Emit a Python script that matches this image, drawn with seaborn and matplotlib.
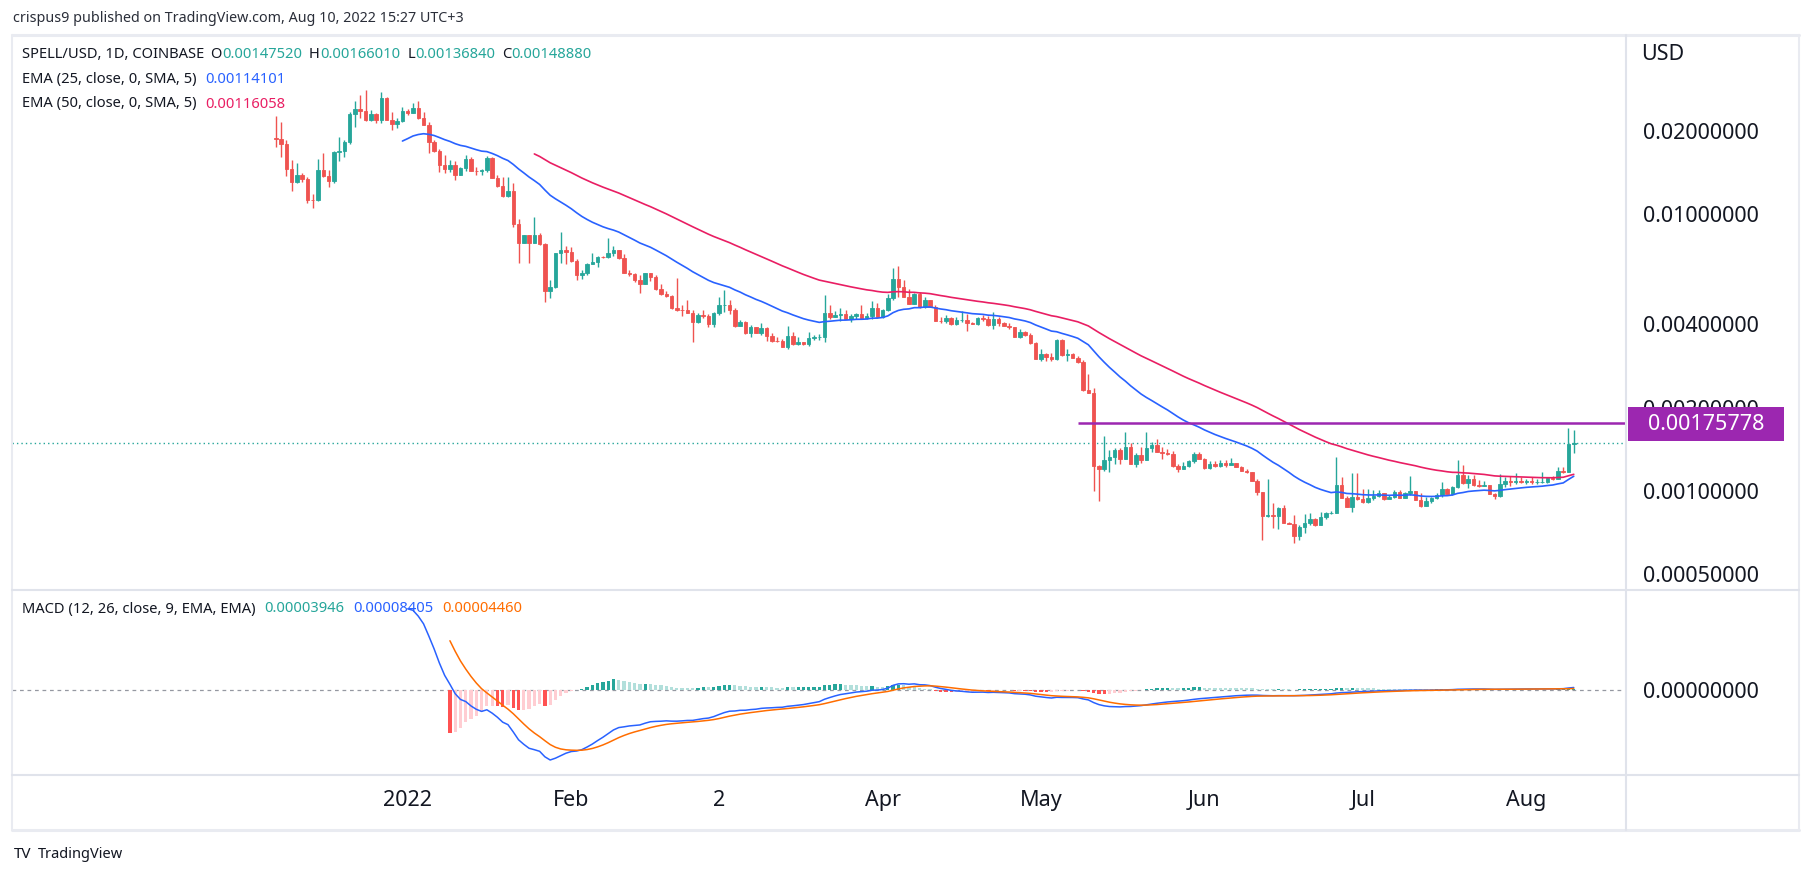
import numpy as np
import pandas as pd
import matplotlib
matplotlib.use("Agg")
import matplotlib.pyplot as plt
import matplotlib.dates as mdates
from matplotlib.patches import Rectangle
from matplotlib.lines import Line2D
from matplotlib.ticker import FixedLocator, FuncFormatter
import seaborn as sns

# ---------------- data ----------------
start_date = "2021-12-07"
first_open = 0.01876
last_open = 0.0014752

close = [0.01860, 0.01785, 0.01457, 0.01308, 0.01379, 0.01334, 0.01123, 0.01120, 0.01442, 0.01375,
         0.01319, 0.01675, 0.01692, 0.01820, 0.02297, 0.02388, 0.02360, 0.02185, 0.02297, 0.02190,
         0.02623, 0.02185, 0.02119, 0.02161, 0.02349, 0.02322, 0.02408, 0.02216, 0.02101, 0.01824,
         0.01692, 0.01507, 0.01457, 0.01503, 0.01383, 0.01466, 0.01580, 0.01433, 0.01430, 0.01445,
         0.01597, 0.01352, 0.01262, 0.01161, 0.01211, 0.009202, 0.007877, 0.008398, 0.007877, 0.008398,
         0.007793, 0.005285, 0.005464, 0.007249, 0.007414, 0.007274, 0.006766, 0.006022, 0.006138, 0.006599,
         0.006727, 0.007012, 0.006977, 0.007249, 0.007414, 0.006918, 0.006138, 0.006073, 0.005777, 0.005602,
         0.006108, 0.005938, 0.005361, 0.005130, 0.005058, 0.004589, 0.004500, 0.004491, 0.004402, 0.004085,
         0.004308, 0.004272, 0.004017, 0.004380, 0.004693, 0.004700, 0.004502, 0.003941, 0.004075, 0.003728,
         0.003899, 0.003728, 0.003876, 0.003636, 0.003487, 0.003471, 0.003318, 0.003627, 0.003402, 0.003450,
         0.003402, 0.003557, 0.003606, 0.003610, 0.004402, 0.004258, 0.004330, 0.004355, 0.004177, 0.004272,
         0.004355, 0.004201, 0.004272, 0.004565, 0.004237, 0.004502, 0.004961, 0.005825, 0.005464, 0.005028,
         0.004732, 0.005142, 0.004604, 0.004892, 0.004627, 0.004118, 0.004098, 0.004201, 0.004007, 0.004143,
         0.004160, 0.004030, 0.004017, 0.004201, 0.004188, 0.003974, 0.004177, 0.004031, 0.003951, 0.003899,
         0.003606, 0.003750, 0.003657, 0.003413, 0.003003, 0.003123, 0.003053, 0.002988, 0.003508, 0.003089,
         0.003123, 0.003028, 0.002929, 0.002315, 0.002264, 0.001234, 0.001198, 0.001294, 0.001323, 0.001406,
         0.001308, 0.001438, 0.001255, 0.001345, 0.001294, 0.001426, 0.001469, 0.001386, 0.001375, 0.001356,
         0.001231, 0.001201, 0.001231, 0.001283, 0.001360, 0.001305, 0.001207, 0.001252, 0.001231, 0.001259,
         0.001245, 0.001259, 0.001224, 0.001184, 0.001171, 0.001089, 0.0009941, 0.0008122, 0.0008190, 0.0008143,
         0.0008658, 0.0007682, 0.0007600, 0.0006878, 0.0007394, 0.0007682, 0.0007922, 0.0007537, 0.0008075, 0.0008307,
         0.0008348, 0.001051, 0.0009457, 0.0008775, 0.0009536, 0.0009332, 0.0009148, 0.0009457, 0.0009592, 0.0009809,
         0.0009355, 0.0009512, 0.0009916, 0.0009434, 0.0009809, 0.0009999, 0.0009278, 0.0008849, 0.0009223, 0.0009457,
         0.0009672, 0.001014, 0.0009752, 0.001031, 0.001142, 0.001066, 0.001102, 0.001051, 0.001042, 0.001048,
         0.0009752, 0.0009592, 0.001060, 0.001084, 0.001078, 0.001089, 0.001075, 0.001086, 0.001075, 0.001078,
         0.001080, 0.001114, 0.001105, 0.001181, 0.001171, 0.001475, 0.0014888]

high = [0.02259, 0.02149, 0.01846, 0.01567, 0.01528, 0.01403, 0.01357, 0.01181, 0.01580, 0.01661,
        0.01442, 0.01692, 0.01897, 0.01850, 0.02341, 0.02559, 0.02683, 0.02804, 0.02374, 0.02310,
        0.02758, 0.02652, 0.02335, 0.02221, 0.02428, 0.02400, 0.02510, 0.02559, 0.02335, 0.02154,
        0.01850, 0.01717, 0.01633, 0.01567, 0.01554, 0.01474, 0.01633, 0.01602, 0.01482, 0.01457,
        0.01620, 0.01610, 0.01383, 0.01364, 0.01357, 0.01291, 0.009569, 0.008398, 0.008398, 0.009778,
        0.008518, 0.007838, 0.005777, 0.007249, 0.008632, 0.007684, 0.007620, 0.006862, 0.006278, 0.006671,
        0.007213, 0.007053, 0.007071, 0.008169, 0.007664, 0.007414, 0.007171, 0.006278, 0.006138, 0.006022,
        0.006138, 0.006108, 0.006022, 0.005575, 0.005272, 0.005100, 0.005874, 0.004693, 0.004892, 0.004502,
        0.004380, 0.004502, 0.004355, 0.004439, 0.005028, 0.005316, 0.004892, 0.004565, 0.004143, 0.004109,
        0.003974, 0.003918, 0.004031, 0.003899, 0.003709, 0.003606, 0.003546, 0.003941, 0.003759, 0.003606,
        0.003459, 0.003759, 0.003657, 0.003688, 0.005100, 0.004681, 0.004465, 0.004565, 0.004502, 0.004355,
        0.004402, 0.004681, 0.004380, 0.004863, 0.004760, 0.004540, 0.005130, 0.006383, 0.006490, 0.005777,
        0.005374, 0.005198, 0.005242, 0.005003, 0.004892, 0.004693, 0.004258, 0.004319, 0.004258, 0.004237,
        0.004475, 0.004355, 0.004065, 0.004258, 0.004308, 0.004283, 0.004417, 0.004237, 0.004085, 0.004031,
        0.003918, 0.003835, 0.003781, 0.003709, 0.003459, 0.003255, 0.003157, 0.003157, 0.003529, 0.003529,
        0.003247, 0.003141, 0.003079, 0.002971, 0.002645, 0.002348, 0.001238, 0.001579, 0.001406, 0.001426,
        0.001426, 0.001629, 0.001486, 0.001375, 0.001445, 0.001629, 0.001499, 0.001537, 0.001438, 0.001421,
        0.001394, 0.001252, 0.001272, 0.001294, 0.001386, 0.001386, 0.001312, 0.001286, 0.001286, 0.001294,
        0.001294, 0.001315, 0.001265, 0.001231, 0.001198, 0.001171, 0.001102, 0.0009941, 0.001102, 0.0009027,
        0.0008775, 0.0008900, 0.0007747, 0.0008190, 0.0007537, 0.0008259, 0.0008348, 0.0007967, 0.0008418, 0.0008397,
        0.0008487, 0.001330, 0.001120, 0.0009592, 0.001164, 0.001164, 0.001019, 0.001019, 0.001008, 0.001008,
        0.0009858, 0.0009672, 0.001008, 0.001008, 0.0009916, 0.001133, 0.001002, 0.0009858, 0.0009488, 0.0009536,
        0.0009809, 0.001075, 0.001022, 0.001042, 0.001294, 0.001241, 0.001142, 0.001142, 0.001096, 0.001089,
        0.001051, 0.0009858, 0.001152, 0.001126, 0.001133, 0.001158, 0.001120, 0.001108, 0.001120, 0.001102,
        0.001171, 0.001116, 0.001133, 0.001224, 0.001224, 0.001688, 0.0016601]

low = [0.01750, 0.01610, 0.01375, 0.01211, 0.01291, 0.01308, 0.01098, 0.01054, 0.01117, 0.01364,
       0.01255, 0.01291, 0.01554, 0.01610, 0.01785, 0.02066, 0.02227, 0.02172, 0.02172, 0.02136,
       0.02136, 0.02180, 0.02010, 0.02049, 0.02149, 0.02283, 0.02310, 0.02203, 0.02096, 0.01665,
       0.01679, 0.01421, 0.01403, 0.01418, 0.01330, 0.01383, 0.01433, 0.01433, 0.01383, 0.01383,
       0.01421, 0.01345, 0.01255, 0.01155, 0.01155, 0.008998, 0.006638, 0.007838, 0.006638, 0.007838,
       0.007728, 0.004824, 0.004961, 0.005419, 0.006638, 0.006599, 0.006727, 0.005777, 0.005811, 0.006022,
       0.006583, 0.006452, 0.006918, 0.006918, 0.007053, 0.006897, 0.006108, 0.005972, 0.005696, 0.005172,
       0.005588, 0.005743, 0.005316, 0.005087, 0.005028, 0.004528, 0.004475, 0.004283, 0.004380, 0.003459,
       0.004031, 0.004201, 0.003918, 0.003918, 0.004319, 0.004439, 0.004355, 0.003918, 0.003941, 0.003688,
       0.003606, 0.003709, 0.003666, 0.003487, 0.003450, 0.003450, 0.003302, 0.003247, 0.003374, 0.003365,
       0.003365, 0.003346, 0.003508, 0.003508, 0.003459, 0.004167, 0.004237, 0.004118, 0.004167, 0.004075,
       0.004188, 0.004188, 0.004188, 0.004167, 0.004223, 0.004223, 0.004454, 0.004892, 0.005003, 0.005016,
       0.004720, 0.004720, 0.004589, 0.004589, 0.004627, 0.004098, 0.004051, 0.004031, 0.003974, 0.003984,
       0.004075, 0.003790, 0.003997, 0.003974, 0.004118, 0.003951, 0.003844, 0.003951, 0.003941, 0.003835,
       0.003588, 0.003576, 0.003636, 0.003394, 0.002988, 0.002953, 0.002953, 0.002953, 0.002971, 0.003071,
       0.002953, 0.003021, 0.002905, 0.002301, 0.002264, 0.001002, 0.0009223, 0.001181, 0.001174, 0.001252,
       0.001252, 0.001305, 0.001255, 0.001224, 0.001259, 0.001305, 0.001386, 0.001379, 0.001305, 0.001349,
       0.001224, 0.001171, 0.001198, 0.001224, 0.001259, 0.001301, 0.001204, 0.001204, 0.001224, 0.001218,
       0.001224, 0.001245, 0.001218, 0.001178, 0.001158, 0.001084, 0.0009672, 0.0006653, 0.0008035, 0.0007332,
       0.0007272, 0.0007644, 0.0007581, 0.0006473, 0.0006653, 0.0007069, 0.0007556, 0.0007493, 0.0007518, 0.0007942,
       0.0008259, 0.0008307, 0.0009408, 0.0008753, 0.0008418, 0.0009278, 0.0009027, 0.0009072, 0.0009278, 0.0009488,
       0.0009278, 0.0009355, 0.0009408, 0.0009408, 0.0009408, 0.0009672, 0.0009278, 0.0008775, 0.0008827, 0.0009072,
       0.0009332, 0.0009488, 0.0009730, 0.0009696, 0.001022, 0.001060, 0.001022, 0.001042, 0.001031, 0.001042,
       0.0009730, 0.0009379, 0.0009488, 0.001036, 0.001042, 0.001062, 0.001069, 0.001057, 0.001062, 0.001060,
       0.001071, 0.001071, 0.001096, 0.001102, 0.001165, 0.001174, 0.0013684]

price_ticks = [0.02, 0.01, 0.004, 0.002, 0.001, 0.0005]
month_ticks = ["2022-01-01", "2022-02-01", "2022-03-01", "2022-04-01", "2022-05-01",
               "2022-06-01", "2022-07-01", "2022-08-01"]
month_labels = ["2022", "Feb", "2", "Apr", "May", "Jun", "Jul", "Aug"]
level_price = 0.00175778
level_start = "2022-05-08"

header = "crispus9 published on TradingView.com, Aug 10, 2022 15:27 UTC+3"
legend_ohlc = [("O", "0.00147520"), ("H", "0.00166010"), ("L", "0.00136840"), ("C", "0.00148880")]
ema25_value = "0.00114101"
ema50_value = "0.00116058"
macd_values = ["0.00003946", "0.00008405", "0.00004460"]

# ---------------- styling ----------------
sns.set_theme(style="white")
plt.rcParams["font.family"] = ["Noto Sans", "DejaVu Sans"]

GREEN = "#26A69A"
RED = "#EF5350"
BLUE = "#2962FF"
PINK = "#E91E63"
ORANGE = "#FF6D00"
PURPLE = "#9C27B0"
TXT = "#131722"
BORDER = "#E0E3EB"
LEG = 10.6

W, H = 1814, 876
fig = plt.figure(figsize=(W / 100, H / 100), dpi=100)
fig.patch.set_facecolor("white")


def fx(p):
    return p / W


def fy(p):
    return 1 - p / H


ax = fig.add_axes([fx(12), fy(590), fx(1626) - fx(12), fy(35) - fy(590)])
axm = fig.add_axes([fx(12), fy(775), fx(1626) - fx(12), fy(590) - fy(775)], sharex=ax)

# ---------------- series ----------------
close_a = np.array(close)
high_a = np.array(high)
low_a = np.array(low)
open_a = np.concatenate([[first_open], close_a[:-1]])  # crypto candles open at prior close
open_a[-1] = last_open
dates = pd.date_range(start_date, periods=len(close_a), freq="D")
xd = mdates.date2num(dates)


def ema_seeded(values, n):
    v = np.asarray(values, float)
    out = np.full(len(v), np.nan)
    valid = np.where(~np.isnan(v))[0]
    if len(valid) < n:
        return out
    i0 = valid[0] + n - 1
    out[i0] = np.mean(v[valid[0]:i0 + 1])
    a = 2.0 / (n + 1)
    for i in range(i0 + 1, len(v)):
        out[i] = a * v[i] + (1 - a) * out[i - 1]
    return out


ema25 = ema_seeded(close_a, 25)
ema50 = ema_seeded(close_a, 50)
macd = ema_seeded(close_a, 12) - ema_seeded(close_a, 26)
signal = ema_seeded(macd, 9)
hist = macd - signal

df = pd.DataFrame({"date": dates, "ema25": ema25, "ema50": ema50,
                   "macd": macd, "signal": signal})

# ---------------- main price panel ----------------
ax.set_yscale("log")
up = close_a >= open_a
cols = np.where(up, GREEN, RED)
wick_lo = np.minimum(low_a, np.minimum(open_a, close_a))
wick_hi = np.maximum(high_a, np.maximum(open_a, close_a))
ax.vlines(xd, wick_lo, wick_hi, colors=cols, lw=1.0, zorder=3)
body_lo = np.minimum(open_a, close_a)
body_h = np.abs(close_a - open_a)
ax.bar(xd, body_h, bottom=body_lo, width=0.66, color=cols, edgecolor=cols,
       linewidth=0.6, zorder=3)

sns.lineplot(data=df, x="date", y="ema25", ax=ax, color=BLUE, lw=1.2, zorder=4)
sns.lineplot(data=df, x="date", y="ema50", ax=ax, color=PINK, lw=1.2, zorder=4)

xmin = xd[0] - 50.0
xmax = xd[0] + 255.9
ax.hlines(level_price, mdates.date2num(pd.Timestamp(level_start)), xmax,
          color=PURPLE, lw=1.8, zorder=5)
ax.axhline(close_a[-1], color=GREEN, lw=1.0, ls=(0, (1, 2.2)), zorder=2)

ax.set_xlim(xmin, xmax)
ax.set_ylim(0.0004392, 0.04427)
ax.yaxis.tick_right()
ax.yaxis.set_major_locator(FixedLocator(price_ticks))
ax.yaxis.set_minor_locator(FixedLocator([]))
ax.yaxis.set_major_formatter(FuncFormatter(lambda v, p: f"{v:.8f}"))
ax.tick_params(axis="y", length=0, pad=12.5, labelsize=15.5, labelcolor=TXT)
ax.tick_params(axis="x", length=0, labelbottom=False)
ax.set_xlabel("")
ax.set_ylabel("")
for s in ax.spines.values():
    s.set_visible(False)

# ---------------- MACD panel ----------------
prev = np.concatenate([[np.nan], hist[:-1]])
hcols = []
for h, p in zip(hist, prev):
    if np.isnan(h):
        hcols.append("none")
    elif h >= 0:
        hcols.append("#26A69A" if (np.isnan(p) or p < h) else "#B2DFDB")
    else:
        hcols.append("#FFCDD2" if (not np.isnan(p) and p < h) else "#FF5252")
axm.bar(xd, np.nan_to_num(hist), width=0.62, color=hcols, linewidth=0, zorder=2)
axm.axhline(0, color="#9598A1", lw=0.9, ls=(0, (3, 3)), zorder=1)
sns.lineplot(data=df, x="date", y="macd", ax=axm, color=BLUE, lw=1.1, zorder=3)
sns.lineplot(data=df, x="date", y="signal", ax=axm, color=ORANGE, lw=1.1, zorder=3)

mn = np.nanmin(macd)
scale = (760.0 - 689.6) / (-mn)
axm.set_ylim(-(775 - 689.6) / scale, (689.6 - 590) / scale)
axm.set_xlim(xmin, xmax)
axm.yaxis.tick_right()
axm.set_yticks([0])
axm.set_yticklabels(["0.00000000"])
axm.tick_params(axis="y", length=0, pad=12.5, labelsize=15.5, labelcolor=TXT)
axm.set_xticks(mdates.date2num(pd.to_datetime(month_ticks)))
axm.set_xticklabels(month_labels)
axm.tick_params(axis="x", length=0, pad=11, labelsize=15.5, labelcolor=TXT)
axm.get_xticklabels()[0].set_fontweight("bold")
axm.set_xlabel("")
axm.set_ylabel("")
for s in axm.spines.values():
    s.set_visible(False)

# ---------------- frame lines ----------------
def hline_px(y, x0, x1, color=BORDER, lw=1.5):
    fig.add_artist(Line2D([fx(x0), fx(x1)], [fy(y), fy(y)], color=color, lw=lw))


def vline_px(x, y0, y1, color=BORDER, lw=1.5):
    fig.add_artist(Line2D([fx(x), fx(x)], [fy(y0), fy(y1)], color=color, lw=lw))


hline_px(35, 12, 1799, color="#E9EBF1", lw=2.2)
hline_px(830, 12, 1799, color="#E9EBF1", lw=2.2)
vline_px(12, 35, 830, color="#E9EBF1", lw=1.5)
vline_px(1799, 35, 830, color="#E9EBF1", lw=1.5)
hline_px(590, 12, 1799)
hline_px(775, 12, 1799)
vline_px(1626, 35, 830)

# ---------------- texts ----------------
renderer = fig.canvas.get_renderer()


def rich(x_px, y_px, parts, size):
    x = x_px
    for s, c, gap in parts:
        t = fig.text(fx(x), fy(y_px), s, color=c, fontsize=size, va="center", ha="left")
        bb = t.get_window_extent(renderer=renderer)
        x += bb.width + gap


fig.text(fx(13), fy(18), header, color="#2A2E39", fontsize=10.3, va="center", ha="left")

parts = [("SPELL/USD, 1D, COINBASE", TXT, 6)]
for k, v in legend_ohlc:
    parts.append((k, TXT, 0.3))
    parts.append((v, GREEN, 7))
rich(22, 55, parts, LEG)
rich(22, 79.5, [("EMA (25, close, 0, SMA, 5)", TXT, 9), (ema25_value, BLUE, 0)], LEG)
rich(22, 104, [("EMA (50, close, 0, SMA, 5)", TXT, 9), (ema50_value, PINK, 0)], LEG)
rich(22, 609, [("MACD (12, 26, close, 9, EMA, EMA)", TXT, 9), (macd_values[0], GREEN, 9),
               (macd_values[1], BLUE, 9), (macd_values[2], ORANGE, 0)], LEG)

fig.text(fx(1641), fy(54), "USD", color=TXT, fontsize=15.5, va="center", ha="left")

# purple price label
fig.add_artist(Rectangle((fx(1628), fy(441)), fx(1784) - fx(1628), fy(407) - fy(441),
                         transform=fig.transFigure, facecolor=PURPLE, edgecolor="none", zorder=10))
fig.text(fx(1706), fy(424), f"{level_price:.8f}", color="white", fontsize=15.5,
         va="center", ha="center", zorder=11)

# footer
fig.text(fx(14), fy(854), "TV", color=TXT, fontsize=11, fontweight="bold", va="center", ha="left")
fig.text(fx(38), fy(854), "TradingView", color=TXT, fontsize=10.5, va="center", ha="left")

fig.savefig("out.png", dpi=100, facecolor="white")
